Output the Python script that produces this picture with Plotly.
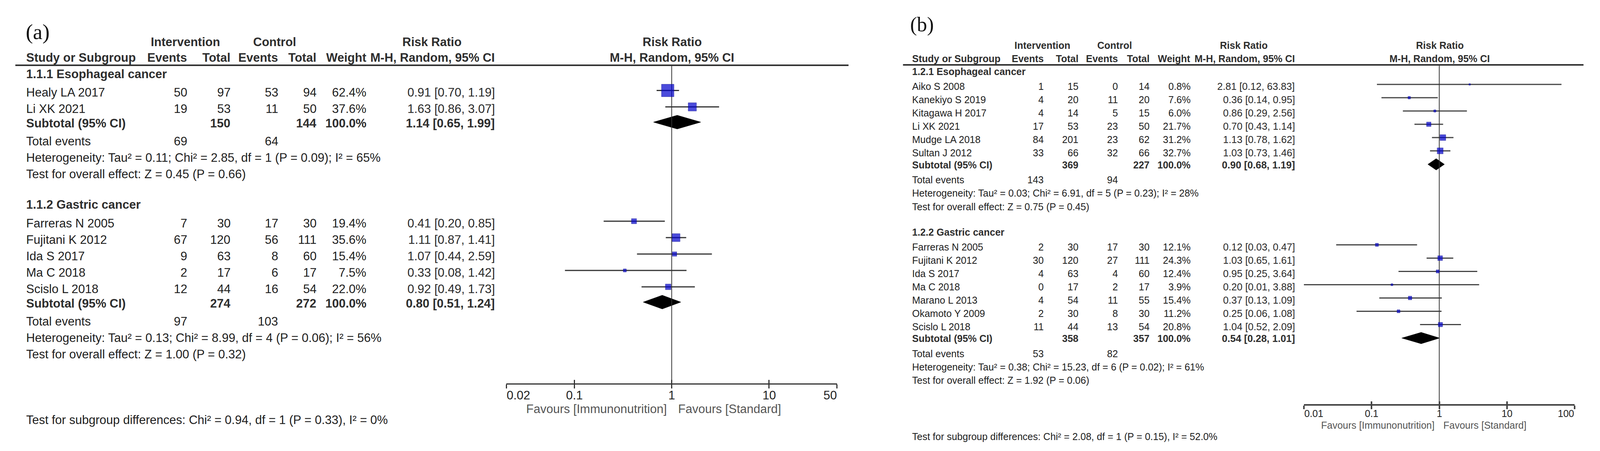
import math
import plotly.graph_objects as go

W, H = 4171, 1154

# ======================= DATA : panel (a) =======================
a_label = "(a)"
a_g1_name = "1.1.1 Esophageal cancer"
a_g1_study = ["Healy LA 2017", "Li XK 2021"]
a_g1_int_ev = [50, 19]
a_g1_int_tot = [97, 53]
a_g1_ctl_ev = [53, 11]
a_g1_ctl_tot = [94, 50]
a_g1_weight = [62.4, 37.6]
a_g1_rr = [0.91, 1.63]
a_g1_lo = [0.70, 0.86]
a_g1_hi = [1.19, 3.07]
a_g1_sub_tot = [150, 144]
a_g1_sub_rr = [1.14, 0.65, 1.99]
a_g1_events = [69, 64]
a_g1_het = "Heterogeneity: Tau² = 0.11; Chi² = 2.85, df = 1 (P = 0.09); I² = 65%"
a_g1_z = "Test for overall effect: Z = 0.45 (P = 0.66)"

a_g2_name = "1.1.2 Gastric cancer"
a_g2_study = ["Farreras N 2005", "Fujitani K 2012", "Ida S 2017", "Ma C 2018", "Scislo L 2018"]
a_g2_int_ev = [7, 67, 9, 2, 12]
a_g2_int_tot = [30, 120, 63, 17, 44]
a_g2_ctl_ev = [17, 56, 8, 6, 16]
a_g2_ctl_tot = [30, 111, 60, 17, 54]
a_g2_weight = [19.4, 35.6, 15.4, 7.5, 22.0]
a_g2_rr = [0.41, 1.11, 1.07, 0.33, 0.92]
a_g2_lo = [0.20, 0.87, 0.44, 0.08, 0.49]
a_g2_hi = [0.85, 1.41, 2.59, 1.42, 1.73]
a_g2_sub_tot = [274, 272]
a_g2_sub_rr = [0.80, 0.51, 1.24]
a_g2_events = [97, 103]
a_g2_het = "Heterogeneity: Tau² = 0.13; Chi² = 8.99, df = 4 (P = 0.06); I² = 56%"
a_g2_z = "Test for overall effect: Z = 1.00 (P = 0.32)"

a_diff = "Test for subgroup differences: Chi² = 0.94, df = 1 (P = 0.33), I² = 0%"
a_ticks = [0.02, 0.1, 1, 10, 50]
a_tick_text = ["0.02", "0.1", "1", "10", "50"]

# ======================= DATA : panel (b) =======================
b_label = "(b)"
b_g1_name = "1.2.1 Esophageal cancer"
b_g1_study = ["Aiko S 2008", "Kanekiyo S 2019", "Kitagawa H 2017", "Li XK 2021",
              "Mudge LA 2018", "Sultan J 2012"]
b_g1_int_ev = [1, 4, 4, 17, 84, 33]
b_g1_int_tot = [15, 20, 14, 53, 201, 66]
b_g1_ctl_ev = [0, 11, 5, 23, 23, 32]
b_g1_ctl_tot = [14, 20, 15, 50, 62, 66]
b_g1_weight = [0.8, 7.6, 6.0, 21.7, 31.2, 32.7]
b_g1_rr = [2.81, 0.36, 0.86, 0.70, 1.13, 1.03]
b_g1_lo = [0.12, 0.14, 0.29, 0.43, 0.78, 0.73]
b_g1_hi = [63.83, 0.95, 2.56, 1.14, 1.62, 1.46]
b_g1_sub_tot = [369, 227]
b_g1_sub_rr = [0.90, 0.68, 1.19]
b_g1_events = [143, 94]
b_g1_het = "Heterogeneity: Tau² = 0.03; Chi² = 6.91, df = 5 (P = 0.23); I² = 28%"
b_g1_z = "Test for overall effect: Z = 0.75 (P = 0.45)"

b_g2_name = "1.2.2 Gastric cancer"
b_g2_study = ["Farreras N 2005", "Fujitani K 2012", "Ida S 2017", "Ma C 2018",
              "Marano L 2013", "Okamoto Y 2009", "Scislo L 2018"]
b_g2_int_ev = [2, 30, 4, 0, 4, 2, 11]
b_g2_int_tot = [30, 120, 63, 17, 54, 30, 44]
b_g2_ctl_ev = [17, 27, 4, 2, 11, 8, 13]
b_g2_ctl_tot = [30, 111, 60, 17, 55, 30, 54]
b_g2_weight = [12.1, 24.3, 12.4, 3.9, 15.4, 11.2, 20.8]
b_g2_rr = [0.12, 1.03, 0.95, 0.20, 0.37, 0.25, 1.04]
b_g2_lo = [0.03, 0.65, 0.25, 0.01, 0.13, 0.06, 0.52]
b_g2_hi = [0.47, 1.61, 3.64, 3.88, 1.09, 1.08, 2.09]
b_g2_sub_tot = [358, 357]
b_g2_sub_rr = [0.54, 0.28, 1.01]
b_g2_events = [53, 82]
b_g2_het = "Heterogeneity: Tau² = 0.38; Chi² = 15.23, df = 6 (P = 0.02); I² = 61%"
b_g2_z = "Test for overall effect: Z = 1.92 (P = 0.06)"

b_diff = "Test for subgroup differences: Chi² = 2.08, df = 1 (P = 0.15), I² = 52.0%"
b_ticks = [0.01, 0.1, 1, 10, 100]
b_tick_text = ["0.01", "0.1", "1", "10", "100"]

col_intervention = "Intervention"
col_control = "Control"
col_study = "Study or Subgroup"
col_events = "Events"
col_total = "Total"
col_weight = "Weight"
col_rr = "Risk Ratio"
col_method = "M-H, Random, 95% CI"
row_subtotal = "Subtotal (95% CI)"
row_events = "Total events"
fav_left = "Favours [Immunonutrition]"
fav_right = "Favours [Standard]"


def group(prefix):
    g = globals()
    return dict(name=g[prefix + "_name"], study=g[prefix + "_study"],
                ie=g[prefix + "_int_ev"], it=g[prefix + "_int_tot"],
                ce=g[prefix + "_ctl_ev"], ct=g[prefix + "_ctl_tot"],
                w=g[prefix + "_weight"], rr=g[prefix + "_rr"],
                lo=g[prefix + "_lo"], hi=g[prefix + "_hi"],
                sub_tot=g[prefix + "_sub_tot"], sub_rr=g[prefix + "_sub_rr"],
                events=g[prefix + "_events"], het=g[prefix + "_het"], z=g[prefix + "_z"])


# ======================= LAYOUT (pixel positions / styles) =======================
SANS = "Liberation Sans, Arial, sans-serif"
NARROW = "Liberation Sans Narrow, Arial Narrow, Liberation Sans, sans-serif"
SERIF = "Liberation Serif, Times New Roman, serif"
TXT = "#1e1e1e"
HDR = "#2e2e2e"
CIC = "#2a2a2a"
FAV = "#555555"
BLUE = "#0000cc"
BLUE_EDGE = "#00008b"

LA = dict(fs=31, ci_fs=31, lab_fs=55, lab_x=66, lab_y=81,
          hdr1_y=107, hdr2_y=147, line_y=167, line_x0=40, line_x1=2212,
          name_x=67, ie_x=489, it_x=602, ce_x=726, ct_x=826, w_x=956, ci_x=1291,
          int_c=483, ctl_c=716, rr_c=1126, prr_c=1752,
          g_top=189, hdr_to_study=47.5, step=42, study_to_sub=37, sub_to_te=46,
          te_to_het=42, het_to_z=42, z_to_next=78,
          diff_y=1074, ax_y=982, tick_y=1011, fav_y=1046, fav_gap=(12, 15),
          dom=(1320, 2182), ticklen=10, axw=3, axc="#333333",
          ms=(4.7, 0.437), dia_h=35, mk_off=-5, dia_off=-3, ci_w=3, ci_c="#333333",
          vline_w=2)

LB = dict(fs=25, ci_fs=25.5, lab_fs=52, lab_x=2372, lab_y=63,
          hdr1_y=116, hdr2_y=150, line_y=166, line_x0=2354, line_x1=4128,
          name_x=2377, ie_x=2722, it_x=2813, ce_x=2915, ct_x=2998, w_x=3105, ci_x=3377,
          int_c=2717, ctl_c=2906, rr_c=3242, prr_c=3753,
          g_top=183, hdr_to_study=38, step=34, study_to_sub=30.5, sub_to_te=38.5,
          te_to_het=34, het_to_z=34.5, z_to_next=65,
          diff_y=1117, ax_y=1036, tick_y=1058, fav_y=1088, fav_gap=(12, 9),
          dom=(3399, 4105), ticklen=9, axw=4, axc="#444444",
          ms=(3.8, 0.354), dia_h=29, mk_off=-5, dia_off=-1, ci_w=3, ci_c="#444444",
          vline_w=2)

annotations = []
shapes = []
traces = []


def txt(x, y, s, size, anchor="left", bold=False, color=TXT, xref="x", family=SANS, xshift=0):
    annotations.append(dict(x=x, y=y, xref=xref, yref="y",
                            text=("<b>%s</b>" % s) if bold else s,
                            showarrow=False, xanchor=anchor, yanchor="middle",
                            font=dict(size=size, color=color, family=family),
                            xshift=xshift, borderpad=0))


def ci_text(rr, lo, hi):
    return "%.2f [%.2f, %.2f]" % (rr, lo, hi)


def build_panel(L, label, groups, diff_text, ticks, tick_text, xname):
    fs = L["fs"]
    cfs = L["ci_fs"]
    # panel label
    txt(L["lab_x"], L["lab_y"], label, L["lab_fs"], family=SERIF, color="#111111")
    # headers
    txt(L["int_c"], L["hdr1_y"], col_intervention, fs, "center", True, HDR)
    txt(L["ctl_c"], L["hdr1_y"], col_control, fs, "center", True, HDR)
    txt(L["rr_c"], L["hdr1_y"], col_rr, fs, "center", True, HDR)
    txt(L["prr_c"], L["hdr1_y"], col_rr, fs, "center", True, HDR)
    txt(L["name_x"], L["hdr2_y"], col_study, fs, "left", True, HDR)
    txt(L["ie_x"], L["hdr2_y"], col_events, fs, "right", True, HDR)
    txt(L["it_x"], L["hdr2_y"], col_total, fs, "right", True, HDR)
    txt(L["ce_x"], L["hdr2_y"], col_events, fs, "right", True, HDR)
    txt(L["ct_x"], L["hdr2_y"], col_total, fs, "right", True, HDR)
    txt(L["w_x"], L["hdr2_y"], col_weight, fs, "right", True, HDR)
    txt(L["ci_x"], L["hdr2_y"], col_method, fs, "right", True, HDR)
    txt(L["prr_c"], L["hdr2_y"], col_method, fs, "center", True, HDR)
    shapes.append(dict(type="line", xref="x", yref="y", x0=L["line_x0"], x1=L["line_x1"],
                       y0=L["line_y"], y1=L["line_y"], line=dict(color="#333333", width=4)))

    ci_x, ci_y = [], []
    mk_x, mk_y, mk_s = [], [], []
    y = L["g_top"]
    for g in groups:
        txt(L["name_x"], y, g["name"], fs, "left", True, HDR)
        y += L["hdr_to_study"]
        n = len(g["study"])
        for i in range(n):
            txt(L["name_x"], y, g["study"][i], fs)
            txt(L["ie_x"], y, str(g["ie"][i]), fs, "right")
            txt(L["it_x"], y, str(g["it"][i]), fs, "right")
            txt(L["ce_x"], y, str(g["ce"][i]), fs, "right")
            txt(L["ct_x"], y, str(g["ct"][i]), fs, "right")
            txt(L["w_x"], y, "%.1f%%" % g["w"][i], fs, "right")
            txt(L["ci_x"], y, ci_text(g["rr"][i], g["lo"][i], g["hi"][i]), cfs, "right",
                False, CIC, family=NARROW)
            ym = y + L["mk_off"]
            ci_x += [g["lo"][i], g["hi"][i], None]
            ci_y += [ym, ym, None]
            mk_x.append(g["rr"][i])
            mk_y.append(ym)
            mk_s.append(L["ms"][0] + L["ms"][1] * g["w"][i])
            if i < n - 1:
                y += L["step"]
        y += L["study_to_sub"]
        # subtotal
        txt(L["name_x"], y, row_subtotal, fs, "left", True, HDR)
        txt(L["it_x"], y, str(g["sub_tot"][0]), fs, "right", True, HDR)
        txt(L["ct_x"], y, str(g["sub_tot"][1]), fs, "right", True, HDR)
        txt(L["w_x"], y, "100.0%", fs, "right", True, HDR)
        est, lo, hi = g["sub_rr"]
        txt(L["ci_x"], y, ci_text(est, lo, hi), cfs, "right", True, HDR, family=NARROW)
        yd = y + L["dia_off"]
        hh = L["dia_h"] / 2.0
        traces.append(go.Scatter(x=[lo, est, hi, est, lo], y=[yd, yd - hh, yd, yd + hh, yd],
                                 xaxis=xname, yaxis="y", mode="lines", fill="toself",
                                 fillcolor="#000000", line=dict(color="#000000", width=1),
                                 hoverinfo="skip", showlegend=False))
        y += L["sub_to_te"]
        txt(L["name_x"], y, row_events, fs)
        txt(L["ie_x"], y, str(g["events"][0]), fs, "right")
        txt(L["ce_x"], y, str(g["events"][1]), fs, "right")
        y += L["te_to_het"]
        txt(L["name_x"], y, g["het"], fs)
        y += L["het_to_z"]
        txt(L["name_x"], y, g["z"], fs)
        y += L["z_to_next"]

    txt(L["name_x"], L["diff_y"], diff_text, fs)

    # CI lines
    traces.append(go.Scatter(x=ci_x, y=ci_y, xaxis=xname, yaxis="y", mode="lines",
                             line=dict(color=L["ci_c"], width=L["ci_w"]),
                             hoverinfo="skip", showlegend=False))
    # line of no effect
    traces.append(go.Scatter(x=[1, 1], y=[L["line_y"], L["ax_y"]], xaxis=xname, yaxis="y",
                             mode="lines", line=dict(color="#333333", width=L["vline_w"]),
                             hoverinfo="skip", showlegend=False))
    # study squares
    traces.append(go.Scatter(x=mk_x, y=mk_y, xaxis=xname, yaxis="y", mode="markers",
                             marker=dict(symbol="square", size=mk_s, color=BLUE,
                                         line=dict(color=BLUE_EDGE, width=1)),
                             hoverinfo="skip", showlegend=False, cliponaxis=False))
    # tick labels
    for k, (tv, tt) in enumerate(zip(ticks, tick_text)):
        anchor = "left" if k == 0 else ("right" if k == len(ticks) - 1 else "center")
        txt(math.log10(tv), L["tick_y"], tt, fs, anchor, False, "#222222", xref=xname)
    txt(0, L["fav_y"], fav_left, fs, "right", False, FAV, xref=xname, xshift=-L["fav_gap"][0])
    txt(0, L["fav_y"], fav_right, fs, "left", False, FAV, xref=xname, xshift=L["fav_gap"][1])


build_panel(LA, a_label, [group("a_g1"), group("a_g2")], a_diff, a_ticks, a_tick_text, "x2")
build_panel(LB, b_label, [group("b_g1"), group("b_g2")], b_diff, b_ticks, b_tick_text, "x3")

# dummy traces so the overlaying tick axes are drawn
traces.append(go.Scatter(x=[1], y=[-1000], xaxis="x4", yaxis="y", mode="markers",
                         marker=dict(opacity=0), hoverinfo="skip", showlegend=False))
traces.append(go.Scatter(x=[1], y=[-1000], xaxis="x5", yaxis="y", mode="markers",
                         marker=dict(opacity=0), hoverinfo="skip", showlegend=False))

fig = go.Figure(data=traces)


def log_axis(L, ticks, ticks_dir, show_line, overlay=None):
    d = dict(type="log", range=[math.log10(ticks[0]), math.log10(ticks[-1])],
             domain=[L["dom"][0] / W, L["dom"][1] / W], anchor="free",
             position=1 - L["ax_y"] / H, showline=show_line, linewidth=L["axw"],
             linecolor=L["axc"], ticks=ticks_dir, ticklen=L["ticklen"], tickwidth=L["axw"],
             tickcolor=L["axc"], tickmode="array", tickvals=ticks, showticklabels=False,
             showgrid=False, zeroline=False, fixedrange=True)
    if overlay:
        d["overlaying"] = overlay
    return d


fig.update_layout(
    width=W, height=H, margin=dict(l=0, r=0, t=0, b=0),
    paper_bgcolor="white", plot_bgcolor="rgba(0,0,0,0)",
    xaxis=dict(range=[0, W], domain=[0, 1], visible=False, fixedrange=True),
    yaxis=dict(range=[H, 0], domain=[0, 1], visible=False, fixedrange=True),
    xaxis2=log_axis(LA, a_ticks, "outside", True),
    xaxis4=log_axis(LA, a_ticks, "inside", False, "x2"),
    xaxis3=log_axis(LB, b_ticks, "outside", True),
    xaxis5=log_axis(LB, b_ticks, "inside", False, "x3"),
    annotations=annotations, shapes=shapes, showlegend=False,
)

# make the figure fill exactly the browser viewport (no page margin / scrollbars)
POST = """
document.documentElement.style.margin='0';
document.body.style.margin='0';
document.body.style.overflow='hidden';
var gd = document.getElementById('{plot_id}');
Plotly.relayout(gd, {width: window.innerWidth, height: window.innerHeight});
"""

fig.write_html("out.html", config={"displayModeBar": False}, post_script=POST)
